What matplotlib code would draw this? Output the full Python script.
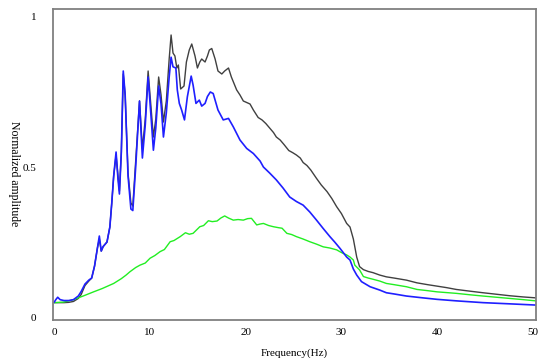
import matplotlib
matplotlib.use("Agg")
import matplotlib.pyplot as plt

plt.rcParams['font.family'] = ['Liberation Serif', 'DejaVu Serif']

# black curve
freq_k = [0, 0.5, 1.0, 1.5, 2.0, 2.5, 2.8, 3.2, 3.6, 3.9, 4.2, 4.5, 4.7, 4.9, 5.1, 5.5, 5.8, 6.0,
          6.2, 6.45, 6.65, 6.8, 7.0, 7.2, 7.4, 7.7, 8.0, 8.2, 8.5, 8.9, 9.2, 9.5, 9.8, 10.1, 10.35,
          10.6, 10.9, 11.15, 11.4, 11.7, 12.0, 12.2, 12.4, 12.6, 12.8, 12.96, 13.2, 13.55, 13.8,
          14.1, 14.36, 14.7, 14.95, 15.2, 15.4, 15.75, 16.0, 16.2, 16.45, 16.8, 17.1, 17.5, 17.8,
          18.2, 18.5, 19.05, 19.4, 19.75, 20.1, 20.45, 20.8, 21.0, 21.3, 21.7, 22.1, 22.5, 22.9,
          23.2, 23.6, 24.0, 24.5, 24.9, 25.3, 25.7, 26.0, 26.4, 26.8, 27.4, 27.9, 28.5, 29.0, 29.5,
          30.0, 30.55, 30.9, 31.25, 31.6, 31.9, 32.3, 32.8, 33.3, 34.0, 34.7, 35.5, 36.8, 37.9,
          39.0, 40.0, 41.0, 42.0, 43.5, 44.8, 46.2, 47.6, 49.0, 50.3]
amp_k = [0.048, 0.048, 0.048, 0.049, 0.052, 0.062, 0.075, 0.105, 0.12, 0.13, 0.17, 0.23, 0.26,
         0.22, 0.235, 0.25, 0.30, 0.38, 0.47, 0.54, 0.47, 0.42, 0.55, 0.81, 0.74, 0.48, 0.38,
         0.37, 0.52, 0.72, 0.56, 0.66, 0.82, 0.70, 0.60, 0.66, 0.80, 0.74, 0.65, 0.72, 0.86,
         0.94, 0.88, 0.87, 0.83, 0.84, 0.76, 0.77, 0.85, 0.89, 0.91, 0.87, 0.83, 0.85, 0.86,
         0.85, 0.87, 0.89, 0.895, 0.86, 0.82, 0.81, 0.82, 0.83, 0.80, 0.757, 0.74, 0.72, 0.715,
         0.71, 0.69, 0.68, 0.665, 0.657, 0.645, 0.63, 0.615, 0.60, 0.59, 0.575, 0.555, 0.548,
         0.54, 0.53, 0.515, 0.505, 0.49, 0.462, 0.44, 0.418, 0.395, 0.368, 0.345, 0.312, 0.30,
         0.26, 0.20, 0.168, 0.158, 0.152, 0.148, 0.14, 0.134, 0.13, 0.123, 0.114, 0.108, 0.103,
         0.098, 0.092, 0.086, 0.081, 0.076, 0.071, 0.067, 0.064]

# blue curve
freq_b = [0, 0.15, 0.35, 0.6, 1.0, 1.5, 2.0, 2.5, 2.8, 3.2, 3.6, 3.9, 4.2, 4.5, 4.7, 4.9, 5.1,
          5.5, 5.8, 6.0, 6.2, 6.45, 6.65, 6.8, 7.0, 7.2, 7.4, 7.7, 8.0, 8.2, 8.5, 8.9, 9.2, 9.5,
          9.8, 10.1, 10.35, 10.6, 10.9, 11.15, 11.4, 11.7, 12.0, 12.2, 12.4, 12.7, 12.85, 13.06,
          13.3, 13.6, 13.9, 14.3, 14.5, 14.8, 15.15, 15.4, 15.75, 16.0, 16.3, 16.6, 17.1, 17.65,
          18.2, 18.7, 19.4, 20.1, 20.8, 21.5, 21.85, 22.5, 23.2, 23.9, 24.6, 25.3, 26.0, 26.7,
          27.4, 28.1, 28.8, 29.3, 29.85, 30.55, 30.9, 31.25, 31.6, 32.1, 33.0, 34.0, 34.7, 35.5,
          36.8, 38.5, 40.0, 42.0, 44.8, 47.6, 50.3]
amp_b = [0.05, 0.058, 0.066, 0.058, 0.055, 0.055, 0.058, 0.07, 0.085, 0.11, 0.123, 0.13, 0.17,
         0.23, 0.27, 0.22, 0.235, 0.25, 0.30, 0.38, 0.47, 0.55, 0.46, 0.41, 0.55, 0.82, 0.74,
         0.47, 0.36, 0.355, 0.50, 0.72, 0.53, 0.64, 0.80, 0.67, 0.556, 0.63, 0.77, 0.71, 0.60,
         0.68, 0.80, 0.866, 0.834, 0.83, 0.757, 0.712, 0.69, 0.657, 0.734, 0.803, 0.773, 0.712,
         0.723, 0.703, 0.712, 0.735, 0.75, 0.745, 0.69, 0.657, 0.662, 0.634, 0.59, 0.562, 0.545,
         0.52, 0.50, 0.48, 0.457, 0.43, 0.40, 0.385, 0.373, 0.35, 0.323, 0.295, 0.268, 0.25,
         0.229, 0.20, 0.19, 0.16, 0.14, 0.118, 0.101, 0.09, 0.081, 0.077, 0.07, 0.064, 0.059,
         0.054, 0.048, 0.044, 0.04]

# green curve
freq_g = [0, 1.0, 2.0, 3.0, 4.1, 5.0, 6.2, 7.0, 7.5, 7.9, 8.5, 8.95, 9.5, 10.0, 10.5, 11.05,
          11.5, 12.1, 12.5, 13.15, 13.7, 14.1, 14.5, 15.2, 15.6, 16.1, 16.5, 17.0, 17.4, 17.8,
          18.2, 18.7, 19.2, 19.75, 20.2, 20.6, 21.15, 21.5, 21.85, 22.4, 22.9, 23.4, 23.8, 24.3,
          24.8, 25.3, 26.0, 26.7, 27.4, 28.1, 28.8, 29.5, 30.0, 30.55, 30.9, 31.25, 31.4, 31.9,
          32.3, 32.8, 33.3, 34.0, 34.7, 35.5, 36.8, 37.9, 39.0, 40.0, 42.0, 43.5, 44.8, 46.2,
          47.6, 49.0, 50.3]
amp_g = [0.048, 0.05, 0.058, 0.07, 0.084, 0.095, 0.112, 0.128, 0.14, 0.151, 0.165, 0.173, 0.18,
         0.196, 0.205, 0.218, 0.225, 0.251, 0.255, 0.268, 0.281, 0.276, 0.279, 0.301, 0.305,
         0.321, 0.318, 0.32, 0.33, 0.337, 0.33, 0.323, 0.325, 0.323, 0.328, 0.329, 0.307, 0.31,
         0.312, 0.305, 0.301, 0.298, 0.296, 0.279, 0.275, 0.268, 0.26, 0.251, 0.243, 0.234,
         0.23, 0.224, 0.215, 0.207, 0.20, 0.19, 0.173, 0.157, 0.135, 0.13, 0.126, 0.12, 0.112,
         0.108, 0.101, 0.092, 0.088, 0.084, 0.079, 0.074, 0.07, 0.066, 0.062, 0.058, 0.054]

xticks = [0, 10, 20, 30, 40, 50]
yticks = [0, 0.5, 1]
ytick_labels = ['0', '0.5', '1']

fig = plt.figure(figsize=(5.5, 3.58), dpi=100)
ax = fig.add_axes([0.0964, 0.106, 0.878, 0.8675])

ax.plot(freq_k, amp_k, color='#404040', lw=1.0)
ax.plot(freq_g, amp_g, color='#22ee22', lw=1.0)
ax.plot(freq_b, amp_b, color='#1f1fff', lw=1.2)

ax.set_xlim(-0.14, 50.33)
ax.set_ylim(-0.01, 1.025)
ax.set_xticks(xticks)
ax.set_xticklabels([str(t) for t in xticks])
ax.set_yticks(yticks)
ax.set_yticklabels(ytick_labels)
ax.tick_params(length=0, labelsize=8)
ax.tick_params(axis='y', pad=12)
ax.tick_params(axis='x', pad=6)

for s in ax.spines.values():
    s.set_color('#808080')
    s.set_linewidth(1.3)

ax.set_xlabel('Frequency(Hz)', fontsize=8, labelpad=8)
ax.set_ylabel('Normalized amplitude', fontsize=8.5, rotation=270, va='center', ha='center')
ax.yaxis.set_label_coords(-0.081, 0.47)

fig.savefig('out.png', dpi=100)
